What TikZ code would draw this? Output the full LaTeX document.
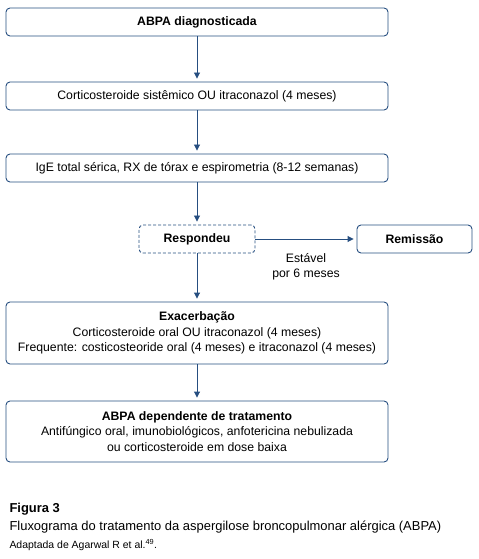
\documentclass[tikz,border=0pt]{standalone}
\usepackage{fontspec}
\setmainfont{Liberation Sans}
\usetikzlibrary{arrows.meta}
\definecolor{azul}{RGB}{38,78,128}
\tikzset{
  caixa/.style={draw=azul, line width=0.9bp, rounded corners=4bp, minimum height=28bp,
    align=center, inner sep=2bp, font=\fontsize{12.3}{15.5}\selectfont},
  larga/.style={caixa, minimum width=382bp},
  seta/.style={-{Triangle[width=6bp,length=6bp]}, draw=azul, fill=azul, line width=0.9bp, shorten >=3bp}
}
\begin{document}
\begin{tikzpicture}[x=1bp, y=-1bp]
\useasboundingbox (0,0) rectangle (479,559);

\node [larga] (diag) at (197,22) {\textbf{ABPA diagnosticada}};
\node [larga] (cortico) at (197,96) {Corticosteroide sistêmico OU itraconazol (4 meses)};
\node [larga] (exames) at (197,168) {IgE total sérica, RX de tórax e espirometria (8-12 semanas)};
\node [caixa, minimum width=116bp, dash pattern=on 3bp off 2bp] (resp) at (197,239) {\textbf{Respondeu}};
\node [caixa, minimum width=115bp] (remis) at (414.5,239) {\textbf{Remissão}};
\node [larga, minimum height=62bp] (exac) at (197,333)
  {\textbf{Exacerbação}\\Corticosteroide oral OU itraconazol (4 meses)\\Frequente: costicosteoride oral (4 meses) e itraconazol (4 meses)};
\node [larga, minimum height=61bp] (depend) at (197,431.5)
  {\textbf{ABPA dependente de tratamento}\\Antifúngico oral, imunobiológicos, anfotericina nebulizada\\ou corticosteroide em dose baixa};

\draw [seta] (diag) -- (cortico);
\draw [seta] (cortico) -- (exames);
\draw [seta] (exames) -- (resp);
\draw [seta] (resp) -- (exac);
\draw [seta] (exac) -- (depend);
\draw [seta] (resp) -- node [below=11bp, align=center, font=\fontsize{12.3}{14.5}\selectfont] {Estável\\por 6 meses} (remis);

% legenda
\node [anchor=base west, font=\fontsize{13}{15}\selectfont\bfseries] (fig) at (6,512) {Figura 3};
\node [anchor=base west, font=\fontsize{13}{15}\selectfont] (titulo) at (6,530) {Fluxograma do tratamento da aspergilose broncopulmonar alérgica (ABPA)};
\node [anchor=base west, font=\fontsize{10.5}{12}\selectfont] (fonte) at (6,548) {Adaptada de Agarwal R et al.\textsuperscript{49}.};

\end{tikzpicture}
\end{document}
